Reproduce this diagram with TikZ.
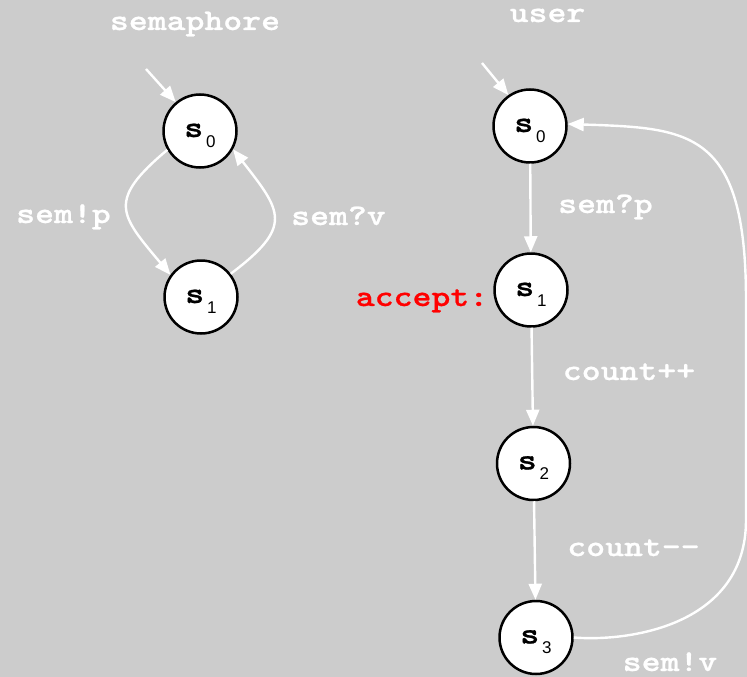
\documentclass[tikz,border=0pt]{standalone}
\usepackage{fontspec}
\newfontfamily\courfont{lmmonolt10-bold.otf}[FakeStretch=1.2, FakeBold=0.8]
\newfontfamily\digitfont{Liberation Sans}
\usetikzlibrary{arrows.meta}

\definecolor{bggray}{HTML}{CCCCCC}
\definecolor{acceptred}{HTML}{FF0000}

\newcommand{\lblfont}{\fontsize{30}{30}\selectfont\courfont}
\newcommand{\statelbl}[1]{{\lblfont s}\hspace{3pt}\raisebox{-10pt}{\fontsize{17}{17}\selectfont\digitfont #1}}

\tikzset{
	state/.style={circle, draw=black, fill=white, line width=2.5pt, minimum size=73pt,
		inner sep=0pt, text height=12pt, text depth=0pt},
	trans/.style={draw=white, line width=2.4pt, -{Triangle[length=16pt,width=13pt]}},
	lbl/.style={text=white, font=\lblfont, anchor=base, inner sep=0pt},
}

\begin{document}
\begin{tikzpicture}[x=1pt,y=1pt]
	\fill [bggray] (0,0) rectangle (747,-677);
	\useasboundingbox (0,0) rectangle (747,-677);

	% semaphore process
	\node [lbl] (semT) at (195,-30) {semaphore};
	\node [state] (m0) at (200,-131) {\statelbl{0}};
	\node [state] (m1) at (201,-297) {\statelbl{1}};
	\coordinate (mInit) at (146,-69);
	\draw [trans] (mInit) -- (m0.130);
	\draw [trans] (m0.210) to [out=220,in=130,distance=79pt] (m1.144);
	\draw [trans] (m1.38) to [out=37,in=308,distance=79pt] (m0.331);
	\node [lbl] (mP) at (63.5,-223) {sem!p};
	\node [lbl] (mV) at (338.5,-225) {sem?v};

	% user process
	\node [lbl] (userT) at (547.5,-22) {user};
	\node [state] (u0) at (530,-126) {\statelbl{0}};
	\node [state] (u1) at (531,-290) {\statelbl{1}};
	\node [state] (u2) at (533.5,-463.5) {\statelbl{2}};
	\node [state] (u3) at (536,-637.5) {\statelbl{3}};
	\coordinate (uInit) at (482,-63);
	\draw [trans] (uInit) -- (u0.125);
	\draw [trans] (u0) -- (u1);
	\draw [trans] (u1) -- (u2);
	\draw [trans] (u2) -- (u3);
	%\draw [trans] (u3) to [out=0,in=0] (u0);
	\coordinate (uR1) at (746,-520);
	\coordinate (uR2) at (746,-300);
	\draw [trans] (u3.east) .. controls (630,-642) and (746,-625) .. (uR1) -- (uR2)
		.. controls (746,-130) and (690,-128) .. (u0.3);
	\node [lbl] (uP) at (605.5,-213) {sem?p};
	\node [lbl, text=acceptred] (uAcc) at (422,-306) {accept:};
	\node [lbl] (uInc) at (629,-380) {count++};
	\node [lbl] (uDec) at (633.5,-556) {count\mbox{-}\mbox{-}};
	\node [lbl] (uV) at (670,-671) {sem!v};
\end{tikzpicture}
\end{document}
